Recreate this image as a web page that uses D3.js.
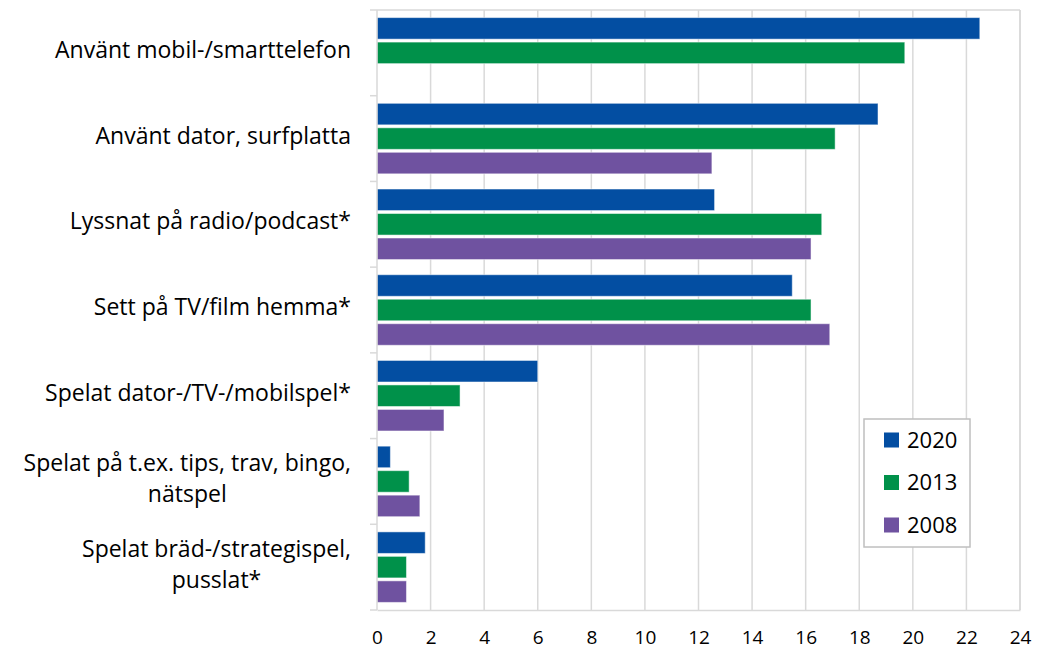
<!DOCTYPE html>
<html><head><meta charset="utf-8">
<script src="https://cdn.jsdelivr.net/npm/d3@7"></script>
<style>html,body{margin:0;padding:0;background:#fff}</style>
</head><body>
<svg id="c" width="1045" height="651"></svg>
<script>
const categories = [
  ["Använt mobil-/smarttelefon"],
  ["Använt dator, surfplatta"],
  ["Lyssnat på radio/podcast*"],
  ["Sett på TV/film hemma*"],
  ["Spelat dator-/TV-/mobilspel*"],
  ["Spelat på t.ex. tips, trav, bingo,", "nätspel"],
  ["Spelat bräd-/strategispel,", "pusslat*"]
];
const seriesNames = ["2020", "2013", "2008"];
const values2020 = [22.5, 18.7, 12.6, 15.5, 6.0, 0.5, 1.8];
const values2013 = [19.7, 17.1, 16.6, 16.2, 3.1, 1.2, 1.1];
const values2008 = [null, 12.5, 16.2, 16.9, 2.5, 1.6, 1.1];
const xTicks = [0, 2, 4, 6, 8, 10, 12, 14, 16, 18, 20, 22, 24];
const colors = ["#034EA2", "#00914A", "#6F52A0"];

const seriesValues = [values2020, values2013, values2008];
const W = 1045, H = 651;
const m = {left: 377, right: 25, top: 10, bottom: 41};
const svg = d3.select("#c");
const font = "'Open Sans', 'Noto Sans', sans-serif";

const x = d3.scaleLinear().domain([0, 24]).range([m.left, W - m.right]);
const catIdx = categories.map((d, i) => i);
const y = d3.scaleBand().domain(catIdx).range([m.top, H - m.bottom]).paddingInner(0).paddingOuter(0);
const y1 = d3.scaleBand().domain(seriesNames).range([0, y.bandwidth()]).paddingInner(0.12).paddingOuter(0.31);

// gridlines
svg.append("g").selectAll("line").data(xTicks.slice(1)).join("line")
  .attr("x1", d => x(d)).attr("x2", d => x(d))
  .attr("y1", m.top).attr("y2", H - m.bottom)
  .attr("stroke", "#d9d9d9").attr("stroke-width", 1.5);
// top border
svg.append("line").attr("x1", m.left).attr("x2", W - m.right).attr("y1", m.top).attr("y2", m.top)
  .attr("stroke", "#d9d9d9").attr("stroke-width", 1.5);

// bars
const rows = [];
catIdx.forEach(i => seriesNames.forEach((s, j) => {
  const v = seriesValues[j][i];
  if (v != null) rows.push({i, s, j, v});
}));
svg.append("g").selectAll("rect").data(rows).join("rect")
  .attr("x", x(0))
  .attr("y", d => y(d.i) + y1(d.s))
  .attr("width", d => x(d.v) - x(0))
  .attr("height", y1.bandwidth())
  .attr("fill", d => colors[d.j])
  .attr("stroke", "#ffffff").attr("stroke-opacity", 0.5).attr("stroke-width", 1);

// left axis with category ticks
const yAxisG = svg.append("g");
yAxisG.append("line").attr("x1", m.left).attr("x2", m.left).attr("y1", m.top).attr("y2", H - m.bottom)
  .attr("stroke", "#d9d9d9").attr("stroke-width", 1.5);
yAxisG.selectAll("line.t").data(d3.range(categories.length + 1)).join("line").attr("class", "t")
  .attr("x1", m.left - 7).attr("x2", m.left)
  .attr("y1", d => m.top + d * y.step()).attr("y2", d => m.top + d * y.step())
  .attr("stroke", "#d9d9d9").attr("stroke-width", 1.5);

// bottom axis
const xAxis = d3.axisBottom(x).tickValues(xTicks).tickSize(0).tickPadding(21);
const xg = svg.append("g").attr("transform", `translate(0,${H - m.bottom})`).call(xAxis);
xg.select(".domain").attr("stroke", "#d9d9d9").attr("stroke-width", 1.5);
xg.selectAll("text").attr("font-family", font).attr("font-size", 19).attr("fill", "#000");
// right border
svg.append("line").attr("x1", W - m.right).attr("x2", W - m.right).attr("y1", m.top).attr("y2", H - m.bottom)
  .attr("stroke", "#d9d9d9").attr("stroke-width", 1.5);

// category labels
const labelRight = 351;
const lineH = 31;
const lg = svg.append("g");
categories.forEach((lines, i) => {
  const cy = y(i) + y.bandwidth() / 2 - 3;
  const t = lg.append("text").attr("font-family", font).attr("font-size", 23).attr("fill", "#000")
    .attr("text-anchor", "middle");
  const tspans = lines.map((ln, k) => t.append("tspan").text(ln));
  let maxW = 0;
  tspans.forEach(ts => { maxW = Math.max(maxW, ts.node().getComputedTextLength()); });
  const cx = labelRight - maxW / 2;
  const y0 = cy - (lines.length - 1) * lineH / 2;
  tspans.forEach((ts, k) => ts.attr("x", cx).attr("y", y0 + k * lineH).attr("dy", "0.35em"));
});

// legend
const leg = svg.append("g").attr("transform", "translate(864,419)");
leg.append("rect").attr("width", 106).attr("height", 128).attr("fill", "#fff")
  .attr("stroke", "#bfbfbf").attr("stroke-width", 1.5);
seriesNames.forEach((s, j) => {
  const gy = 21 + j * 42.5;
  leg.append("rect").attr("x", 20).attr("y", gy - 7.5).attr("width", 15).attr("height", 15).attr("fill", colors[j]);
  leg.append("text").attr("x", 43).attr("y", gy).attr("dy", "0.35em").attr("font-family", font)
    .attr("font-size", 22).attr("fill", "#000").text(s);
});
</script>
</body></html>
